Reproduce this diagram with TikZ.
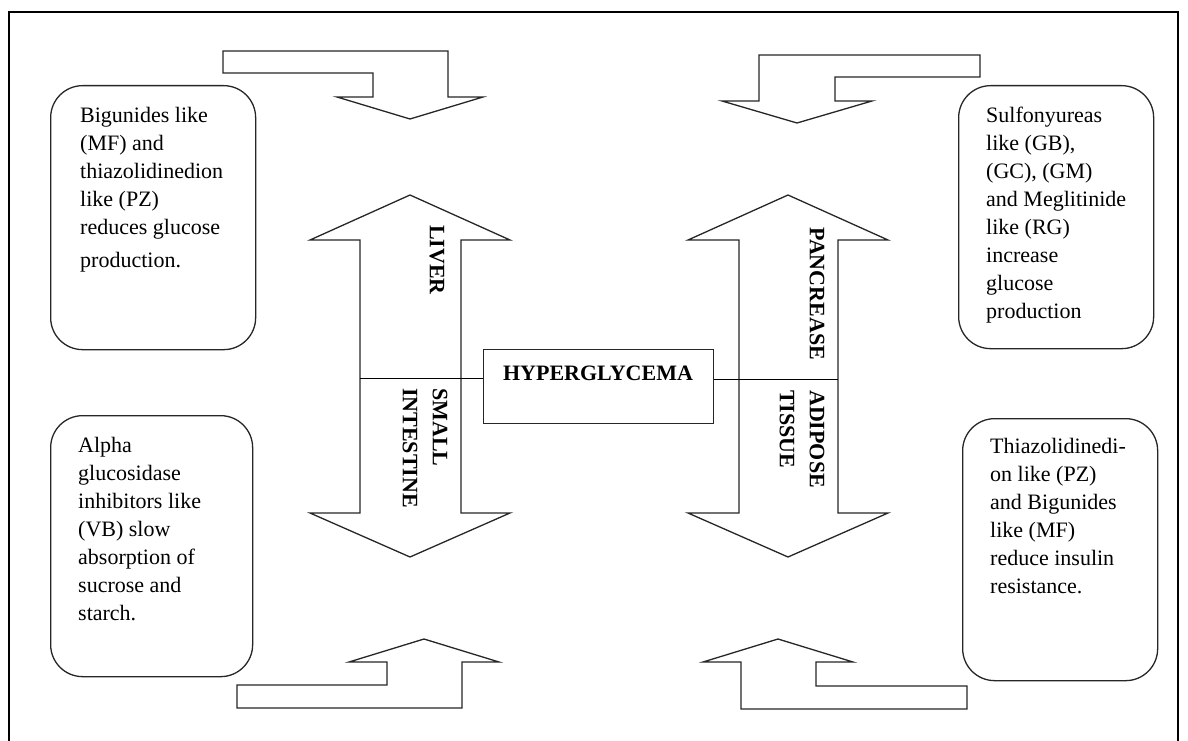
\documentclass[tikz,border=0pt]{standalone}
\usepackage{fontspec}
\setmainfont{Liberation Serif}
\begin{document}
\begin{tikzpicture}[x=1pt,y=-1pt,
  flowarrow/.style={draw=black!85, line width=1.3pt, line join=miter, fill=white},
  note/.style={draw=black!85, line width=1.3pt, rounded corners=32pt, anchor=north west, inner sep=0pt},
  notetext/.style={anchor=north west, align=left, inner sep=0pt, font=\fontsize{22}{28}\selectfont},
  organ/.style={rotate=-90, anchor=west, align=left, inner sep=0pt, font=\fontsize{22}{30}\selectfont\bfseries},
  link/.style={draw=black, line width=1pt},
]
\useasboundingbox (0,0) rectangle (1188,741);

% page frame (open at the bottom)
\draw[line width=1.8pt] (9,760) -- (9,12) -- (1178,12) -- (1178,760);

% bent arrows in the four corners
\draw[flowarrow] (223,51) -- (448,51) -- (448,97) -- (483,97) -- (410,119) -- (337,97)
  -- (373,97) -- (373,73) -- (223,73) -- cycle;
\draw[flowarrow] (980,55) -- (759,55) -- (759,101) -- (722,101) -- (797,123) -- (872,101)
  -- (835,101) -- (835,77) -- (980,77) -- cycle;
\draw[flowarrow] (237,708) -- (462,708) -- (462,662) -- (499,662) -- (424,639) -- (349,662)
  -- (387,662) -- (387,685) -- (237,685) -- cycle;
\draw[flowarrow] (967,709) -- (741,709) -- (741,662) -- (703,662) -- (778,639) -- (853,662)
  -- (816,662) -- (816,686) -- (967,686) -- cycle;

% vertical double arrows
\draw[flowarrow] (410,195) -- (510,240) -- (461,240) -- (461,513) -- (510,513) -- (410,557)
  -- (310,513) -- (360,513) -- (360,240) -- (310,240) -- cycle;
\draw[flowarrow] (788,195) -- (888,240) -- (838,240) -- (838,513) -- (888,513) -- (788,557)
  -- (688,513) -- (739,513) -- (739,240) -- (688,240) -- cycle;

% organ labels
\node[organ] (liver) at (437,225) {LIVER};
\node[organ] (smint) at (425,388) {SMALL\\INTESTINE};
\node[organ] (panc) at (817,227) {PANCREASE};
\node[organ] (adip) at (802,390) {ADIPOSE\\TISSUE};

% central box
\node[draw=black!85, line width=1.3pt, minimum width=230pt, minimum height=74pt,
  anchor=north west, inner sep=0pt] (hyp) at (483,349) {};
\node[inner sep=0pt, font=\fontsize{22}{26}\selectfont\bfseries] (hyptxt) at (598,373) {HYPERGLYCEMA};

% cross bars and links to the central box
\coordinate (ls) at (360,378);
\coordinate (rs) at (838,379);
\draw[link] (ls) -- (hyp.west |- ls);
\draw[link] (hyp.east |- rs) -- (rs);

% drug notes
\node[note, minimum width=205pt, minimum height=264pt] (bigu) at (50,85) {};
\node[notetext] (bigutxt) at (80,107) {Bigunides like\\(MF) and\\thiazolidinedion\\like (PZ)\\reduces glucose\\[5pt]production.};

\node[note, minimum width=195pt, minimum height=263pt] (sulf) at (958,85) {};
\node[notetext] (sulftxt) at (986,107) {Sulfonyureas\\like (GB),\\(GC), (GM)\\and Meglitinide\\like (RG)\\increase\\glucose\\production};

\node[note, minimum width=202pt, minimum height=261pt] (alpha) at (50,415) {};
\node[notetext] (alphatxt) at (78,437) {Alpha\\glucosidase\\inhibitors like\\(VB) slow\\absorption of\\sucrose and\\starch.};

\node[note, minimum width=195pt, minimum height=262pt] (thia) at (962,418) {};
\node[notetext] (thiatxt) at (990,438) {Thiazolidinedi-\\on like (PZ)\\and Bigunides\\like (MF)\\reduce insulin\\resistance.};
\end{tikzpicture}
\end{document}
